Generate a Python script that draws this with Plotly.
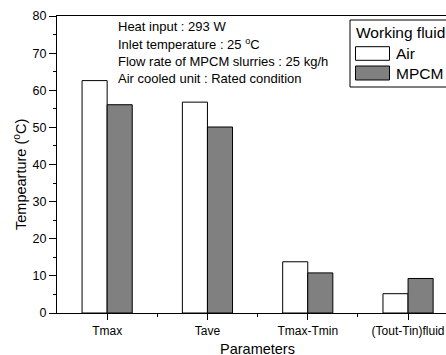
import plotly.graph_objects as go

# Data
parameters = ["Tmax", "Tave", "Tmax-Tmin", "(Tout-Tin)fluid"]
positions = [1, 2, 3, 4]
air_values = [62.6, 56.8, 13.8, 5.2]
mpcm_values = [56.1, 50.1, 10.8, 9.3]
y_ticks = [0, 10, 20, 30, 40, 50, 60, 70, 80]

W, H = 446, 355
ML, MR, MT, MB = 57, 0, 16, 42
PW, PH = W - ML - MR, H - MT - MB

FONT = "Arial, Liberation Sans, sans-serif"


def px(x):
    return (x - ML) / PW


def py(y):
    return (H - MB - y) / PH


fig = go.Figure()
fig.add_trace(go.Bar(x=positions, y=air_values, name="Air",
                     marker=dict(color="white", line=dict(color="black", width=1)),
                     showlegend=False))
fig.add_trace(go.Bar(x=positions, y=mpcm_values, name="MPCM",
                     marker=dict(color="#808080", line=dict(color="black", width=1)),
                     showlegend=False))

# condition notes
notes = [
    ("Heat input : 293 W", 26.7),
    ("Inlet temperature : 25 <sup>o</sup>C", 44.5),
    ("Flow rate of MPCM slurries : 25 kg/h", 61.7),
    ("Air cooled unit : Rated condition", 78.3),
]
for txt, yc in notes:
    fig.add_annotation(text=txt, xref="paper", yref="paper", x=px(116), y=py(yc),
                       xanchor="left", yanchor="middle", showarrow=False,
                       font=dict(family=FONT, size=13, color="black"))

# legend box
shapes = [
    dict(type="rect", xref="paper", yref="paper", x0=px(350), x1=px(470), y0=py(87), y1=py(20),
         line=dict(color="black", width=1), fillcolor="white", layer="above"),
    dict(type="rect", xref="paper", yref="paper", x0=px(355.5), x1=px(389.5), y0=py(60.3), y1=py(46.7),
         line=dict(color="black", width=1), fillcolor="white", layer="above"),
    dict(type="rect", xref="paper", yref="paper", x0=px(355.5), x1=px(389.5), y0=py(80), y1=py(66),
         line=dict(color="black", width=1), fillcolor="#808080", layer="above"),
]
fig.add_annotation(text="Working fluid", xref="paper", yref="paper", x=px(354), y=py(33),
                   xanchor="left", yanchor="middle", showarrow=False,
                   font=dict(family=FONT, size=15.5, color="black"))
fig.add_annotation(text="Air", xref="paper", yref="paper", x=px(394), y=py(53.5),
                   xanchor="left", yanchor="middle", showarrow=False,
                   font=dict(family=FONT, size=15.5, color="black"))
fig.add_annotation(text="MPCM", xref="paper", yref="paper", x=px(394), y=py(73),
                   xanchor="left", yanchor="middle", showarrow=False,
                   font=dict(family=FONT, size=15.5, color="black"))

# axis titles
fig.add_annotation(text="Tempearture (<sup>o</sup>C)", xref="paper", yref="paper",
                   x=px(20), y=py(175), xanchor="center", yanchor="middle", textangle=-90,
                   showarrow=False, font=dict(family=FONT, size=14.5, color="black"))
fig.add_annotation(text="Parameters", xref="x", yref="paper", x=2.5, y=py(349),
                   xanchor="center", yanchor="middle", showarrow=False,
                   font=dict(family=FONT, size=14.5, color="black"))

x_right = 0.5 + PW / 100.3

fig.update_layout(
    width=W, height=H,
    margin=dict(l=ML, r=MR, t=MT, b=MB, pad=0),
    plot_bgcolor="white", paper_bgcolor="white",
    barmode="group", bargap=0.5, bargroupgap=0,
    font=dict(family=FONT, size=12, color="black"),
    shapes=shapes,
    xaxis=dict(range=[0.5, x_right], tickmode="array", tickvals=positions, ticktext=parameters,
               ticks="outside", ticklen=6, tickwidth=1, tickcolor="black",
               showline=True, linecolor="black", linewidth=1.2, mirror=True,
               showgrid=False, zeroline=False,
               tickfont=dict(family=FONT, size=12, color="black"),
               minor=dict(tickmode="array", tickvals=[1.5, 2.5, 3.5], ticks="outside",
                          ticklen=3, tickcolor="black", showgrid=False)),
    yaxis=dict(range=[0, 80], tickmode="array", tickvals=y_ticks,
               ticks="outside", ticklen=7, tickwidth=1, tickcolor="black",
               showline=True, linecolor="black", linewidth=1.2, mirror=False,
               showgrid=False, zeroline=False,
               tickfont=dict(family=FONT, size=12.5, color="black"),
               minor=dict(tickmode="array", tickvals=[5, 15, 25, 35, 45, 55, 65, 75],
                          ticks="outside", ticklen=3, tickcolor="black", showgrid=False)),
)

fig.write_html("out.html")
